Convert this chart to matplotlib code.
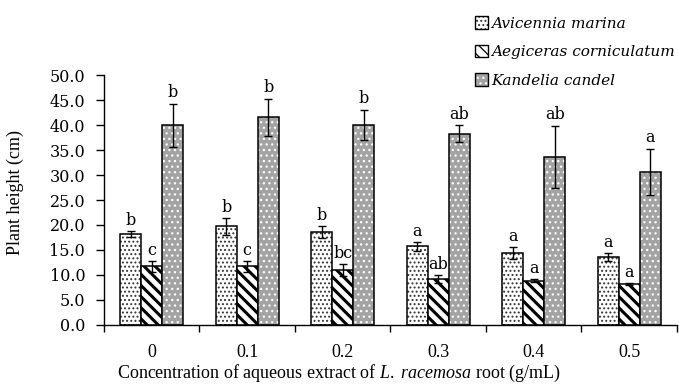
import numpy as np
import matplotlib
matplotlib.use('Agg')
import matplotlib.pyplot as plt
from matplotlib.patches import Patch

plt.rcParams['mathtext.fontset'] = 'custom'
plt.rcParams['mathtext.it'] = 'Liberation Serif:italic'
plt.rcParams['mathtext.rm'] = 'Liberation Serif'
plt.rcParams['hatch.linewidth'] = 0.9

# Plant height (cm) under each extract concentration
conc = ['0', '0.1', '0.2', '0.3', '0.4', '0.5']
species = ['Avicennia marina', 'Aegiceras corniculatum', 'Kandelia candel']

avicennia = [18.1, 19.7, 18.5, 15.7, 14.3, 13.5]
avicennia_err = [0.6, 1.7, 1.2, 0.9, 1.2, 0.8]
aegiceras = [11.7, 11.7, 10.9, 9.2, 8.8, 8.1]
aegiceras_err = [1.1, 1.1, 1.2, 0.8, 0.3, 0.2]
kandelia = [40.0, 41.6, 40.1, 38.3, 33.7, 30.7]
kandelia_err = [4.3, 3.7, 3.0, 1.7, 6.2, 4.6]

avicennia_sig = ['b', 'b', 'b', 'a', 'a', 'a']
aegiceras_sig = ['c', 'c', 'bc', 'ab', 'a', 'a']
kandelia_sig = ['b', 'b', 'b', 'ab', 'ab', 'a']

GRAY = '#a3a3a3'
STRIPE = '\\\\\\'

fig = plt.figure(figsize=(6.79, 3.85), dpi=100)
ax = fig.add_axes([0.153, 0.156, 0.844, 0.649])

x = np.arange(len(conc))
w = 0.22

def add_labels(xpos, vals, errs, sig):
    for xi, v, e, s in zip(xpos, vals, errs, sig):
        ax.annotate(s, xy=(xi, v + e), xytext=(0, 1.5), textcoords='offset points',
                    ha='center', va='bottom', fontsize=11.5, family='DejaVu Serif')

err_kw = dict(ecolor='black', elinewidth=1.0, capsize=3, capthick=1.0)

# Avicennia: white with dark dots
ax.bar(x - w, avicennia, w, color='white', edgecolor='#333333', hatch='....', linewidth=0)
ax.bar(x - w, avicennia, w, fill=False, edgecolor='black', linewidth=1.1,
       yerr=avicennia_err, error_kw=err_kw)

# Aegiceras: bold diagonal stripes
with plt.rc_context({'hatch.linewidth': 2.2}):
    ax.bar(x, aegiceras, w, color='white', edgecolor='black', hatch=STRIPE, linewidth=0)
ax.bar(x, aegiceras, w, fill=False, edgecolor='black', linewidth=1.1,
       yerr=aegiceras_err, error_kw=err_kw)

# Kandelia: gray with white dots
ax.bar(x + w, kandelia, w, color=GRAY, edgecolor='white', hatch='...', linewidth=0)
ax.bar(x + w, kandelia, w, fill=False, edgecolor='black', linewidth=1.1,
       yerr=kandelia_err, error_kw=err_kw)

add_labels(x - w, avicennia, avicennia_err, avicennia_sig)
add_labels(x, aegiceras, aegiceras_err, aegiceras_sig)
add_labels(x + w, kandelia, kandelia_err, kandelia_sig)

ax.set_xlim(-0.5, 5.5)
ax.set_ylim(0, 50)
ax.set_yticks(np.arange(0, 50.1, 5))
ax.set_yticklabels(['%.1f' % v for v in np.arange(0, 50.1, 5)],
                   family='DejaVu Serif', fontsize=11.5)
ax.set_xticks(x)
ax.set_xticklabels(conc, family='Liberation Serif', fontsize=13)
ax.set_xticks(np.arange(-0.5, 5.6, 1), minor=True)
ax.tick_params(axis='x', which='major', length=0, pad=14)
ax.tick_params(axis='x', which='minor', length=5, direction='out', width=1)
ax.tick_params(axis='y', length=5.5, direction='out', width=1, pad=8)

for side in ['top', 'right']:
    ax.spines[side].set_visible(False)
for side in ['left', 'bottom']:
    ax.spines[side].set_linewidth(1.0)

ax.set_ylabel('Plant height (cm)', family='Liberation Serif', fontsize=13)
ax.yaxis.set_label_coords(-0.14, 0.53)
ax.set_xlabel(r'Concentration of aqueous extract of $\mathit{L.\ racemosa}$ root (g/mL)',
              family='Liberation Serif', fontsize=13)
ax.xaxis.set_label_coords(0.41, -0.15)

h1 = (Patch(facecolor='white', edgecolor='#333333', hatch='....', linewidth=0),
      Patch(fill=False, edgecolor='black', linewidth=1.0))
h2 = (Patch(facecolor='white', edgecolor='black', hatch=STRIPE, linewidth=0),
      Patch(fill=False, edgecolor='black', linewidth=1.0))
h3 = (Patch(facecolor=GRAY, edgecolor='white', hatch='...', linewidth=0),
      Patch(fill=False, edgecolor='black', linewidth=1.0))
fig.legend([h1, h2, h3], species, loc='upper left', bbox_to_anchor=(0.68, 0.993),
           frameon=False, handlelength=0.85, handleheight=0.85, handletextpad=0.2,
           labelspacing=0.92, prop={'family': 'DejaVu Serif', 'style': 'italic', 'size': 11})

fig.savefig('out.png', dpi=100)
